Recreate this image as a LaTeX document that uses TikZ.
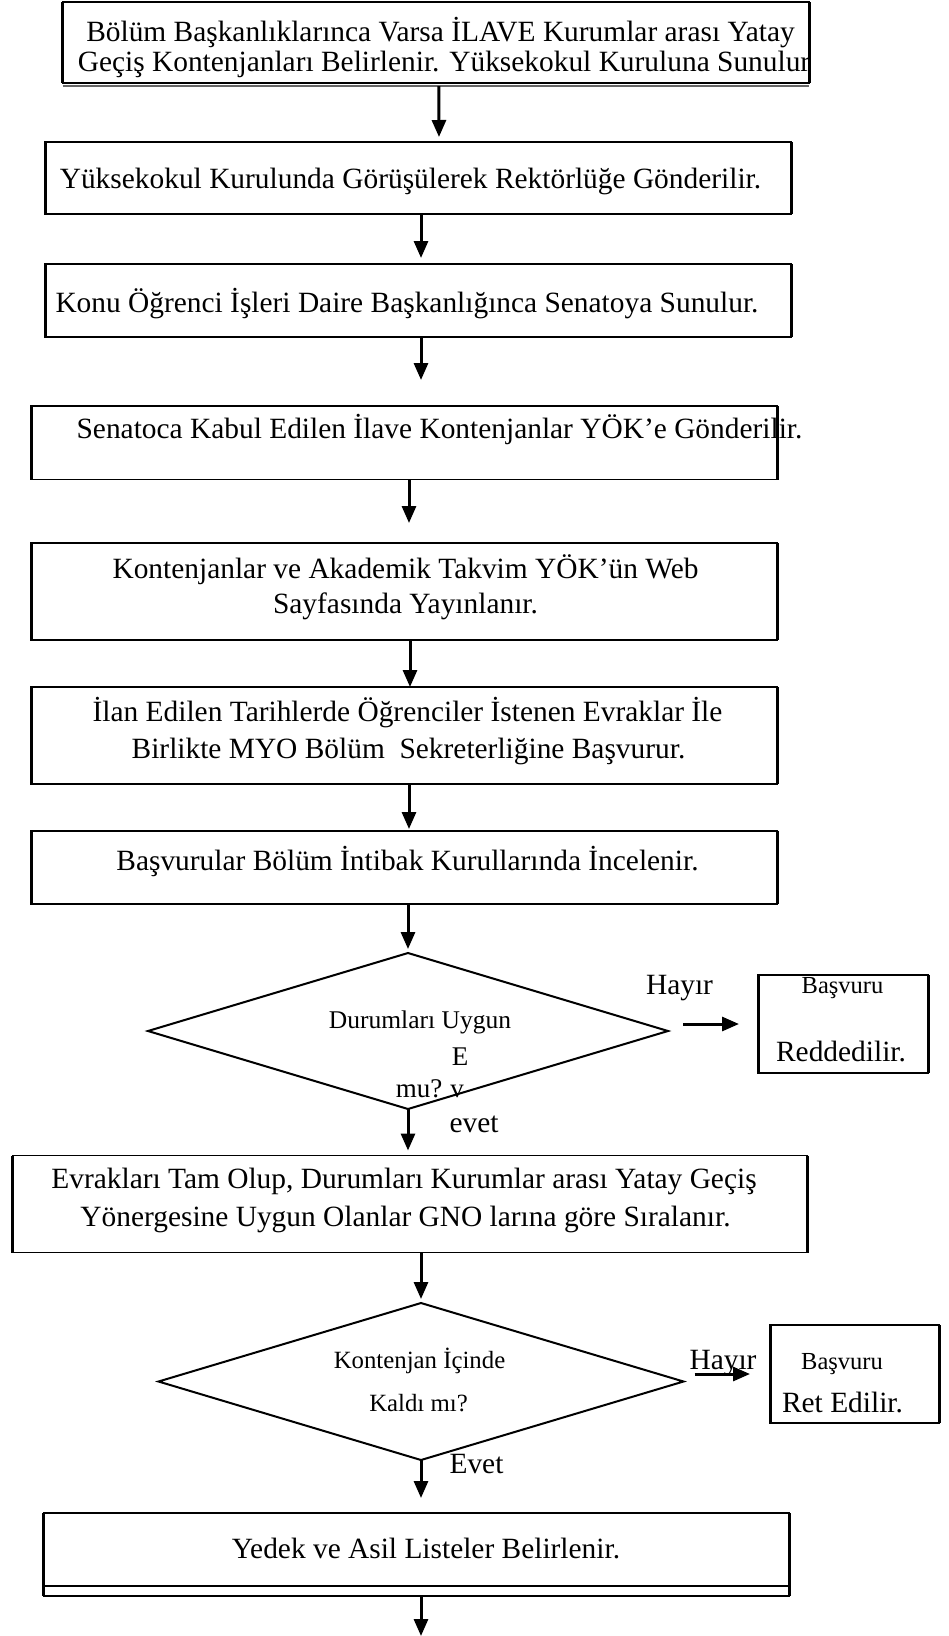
\documentclass[tikz,border=0pt]{standalone}
\usepackage{fontspec}
\setmainfont{Liberation Serif}
\usetikzlibrary{arrows.meta,shapes.geometric}
\newcommand\txtmain{\fontsize{29.4}{34}\selectfont}
\newcommand\txtdiam{\fontsize{25.5}{30}\selectfont}
\newcommand\txtsmall{\fontsize{24.5}{29}\selectfont}
\begin{document}
\begin{tikzpicture}[x=1pt,y=-1pt,
  box/.style={draw, line width=1.4pt, rectangle, inner sep=0pt, outer sep=0pt},
  decision/.style={draw, line width=2pt, diamond, inner sep=0pt, outer sep=0pt},
  side/.style={line width=3pt},
  arr/.style={line width=3pt, -{Triangle[width=14pt,length=17pt]}},
  lbl/.style={anchor=base, inner sep=0pt, font=\txtmain},
  dlbl/.style={anchor=base, inner sep=0pt, font=\txtdiam},
  slbl/.style={anchor=base, inner sep=0pt, font=\txtsmall}]
\fill[white] (0,0) rectangle (949,1636);
\useasboundingbox (0,0) rectangle (949,1636);

% process boxes
\node[box, minimum width=746.3pt, minimum height=81pt] (b1) at (435.85,42.5) {};
\node[box, minimum width=746pt, minimum height=72pt] (b2) at (418,178) {};
\node[box, minimum width=746pt, minimum height=73pt] (b3) at (418,300.5) {};
\node[box, minimum width=746pt, minimum height=73.5pt] (b4) at (404,442.75) {};
\node[box, minimum width=746pt, minimum height=97pt] (b5) at (404,591.5) {};
\node[box, minimum width=746pt, minimum height=97pt] (b6) at (404,735.5) {};
\node[box, minimum width=746pt, minimum height=73pt] (b7) at (404,867.5) {};
\node[box, minimum width=794.5pt, minimum height=97pt] (b8) at (409.75,1204) {};
\node[box, minimum width=746pt, minimum height=83pt] (b9) at (416.5,1554.5) {};
\node[box, minimum width=170pt, minimum height=98pt] (r1) at (843,1024) {};
\node[box, minimum width=169.5pt, minimum height=98pt] (r2) at (854.75,1374) {};

% decisions
\node[decision, minimum width=520pt, minimum height=156pt] (d1) at (408,1031) {};
\node[decision, minimum width=525pt, minimum height=157pt] (d2) at (421,1381.5) {};

% heavier vertical sides of the boxes
\foreach \n in {b1,b2,b3,b4,b5,b6,b7,b8,b9,r1,r2}
  \draw[side] (\n.north west) -- (\n.south west) (\n.north east) -- (\n.south east);
% doubled bottom edges
\draw[line width=1.2pt, black!60] ([yshift=-3]b1.south west) -- ([yshift=-3]b1.south east);
\draw[line width=1.4pt] ([yshift=10]b9.south west) -- ([yshift=10]b9.south east);

% texts
\node[lbl] (t1a) at (440.5,41) {Bölüm Başkanlıklarınca Varsa İLAVE Kurumlar arası Yatay};
\node[lbl] (t1b) at (444,71) {Geçiş Kontenjanları Belirlenir. Yüksekokul Kuruluna Sunulur};
\node[lbl] (t2) at (410.5,188) {Yüksekokul Kurulunda Görüşülerek Rektörlüğe Gönderilir.};
\node[lbl] (t3) at (407,312.7) {Konu Öğrenci İşleri Daire Başkanlığınca Senatoya Sunulur.};
\node[lbl] (t4) at (439.5,438) {Senatoca Kabul Edilen İlave Kontenjanlar YÖK’e Gönderilir.};
\node[lbl] (t5a) at (405.5,578) {Kontenjanlar ve Akademik Takvim YÖK’ün Web};
\node[lbl] (t5b) at (405.5,613) {Sayfasında Yayınlanır.};
\node[lbl] (t6a) at (407.5,721.7) {İlan Edilen Tarihlerde Öğrenciler İstenen Evraklar İle};
\node[lbl] (t6b) at (408.5,758.3) {Birlikte MYO Bölüm\ \ Sekreterliğine Başvurur.};
\node[lbl] (t7) at (407.5,870) {Başvurular Bölüm İntibak Kurullarında İncelenir.};
\node[dlbl] (q1a) at (420,1028) {Durumları Uygun};
\node[dlbl, font=\fontsize{27}{30}\selectfont] (q1b) at (460,1065) {E};
\node[dlbl, font=\fontsize{27}{30}\selectfont] (q1c) at (419,1097) {mu?};
\node[dlbl, font=\fontsize{27}{30}\selectfont] (q1d) at (457,1097) {v};
\node[lbl] (y1) at (474,1132) {evet};
\node[lbl] (n1) at (679.5,994) {Hayır};
\node[slbl] (r1a) at (842.5,993) {Başvuru};
\node[lbl] (r1b) at (841,1061.7) {Reddedilir.};
\node[lbl] (t8a) at (404,1188) {Evrakları Tam Olup, Durumları Kurumlar arası Yatay Geçiş};
\node[lbl] (t8b) at (405.5,1226.7) {Yönergesine Uygun Olanlar GNO larına göre Sıralanır.};
\node[dlbl, font=\fontsize{24.8}{30}\selectfont] (q2a) at (419.5,1368) {Kontenjan İçinde};
\node[dlbl, font=\fontsize{24.8}{30}\selectfont] (q2b) at (418.5,1411) {Kaldı mı?};
\node[lbl] (y2) at (476.5,1473) {Evet};
\node[lbl] (n2) at (723,1369) {Hayır};
\node[slbl] (r2a) at (842,1369) {Başvuru};
\node[lbl] (r2b) at (842.5,1412) {Ret Edilir.};
\node[lbl] (t9) at (426,1558) {Yedek ve Asil Listeler Belirlenir.};

% flow
\coordinate (fin) at (421,1636);
\draw[arr, shorten <=3pt, shorten >=5pt] ([xshift=3]b1.south) -- ([xshift=21]b2.north);
\draw[arr, shorten >=6pt] ([xshift=3]b2.south) -- ([xshift=3]b3.north);
\draw[arr, shorten >=26pt] ([xshift=3]b3.south) -- ([xshift=17]b4.north);
\draw[arr, shorten >=20pt] ([xshift=5]b4.south) -- ([xshift=5]b5.north);
\draw[arr] ([xshift=6]b5.south) -- ([xshift=6]b6.north);
\draw[arr, shorten >=2pt] ([xshift=5]b6.south) -- ([xshift=5]b7.north);
\draw[arr, shorten >=4pt] ([xshift=4]b7.south) -- (d1.north);
\draw[arr, shorten >=5pt] (d1.south) -- ([xshift=-1.75]b8.north);
\draw[arr, shorten >=4pt] ([xshift=11.25]b8.south) -- (d2.north);
\draw[arr, shorten >=15pt] (d2.south) -- ([xshift=4.5]b9.north);
\draw[arr] ([xshift=4.5]b9.south) -- (fin);
\draw[arr, shorten <=15pt, shorten >=19pt] ([yshift=7]d1.east) -- (r1.west);
\draw[arr, shorten <=11pt, shorten >=20pt] ([yshift=7.5]d2.east) -- (r2.west);
\end{tikzpicture}
\end{document}
